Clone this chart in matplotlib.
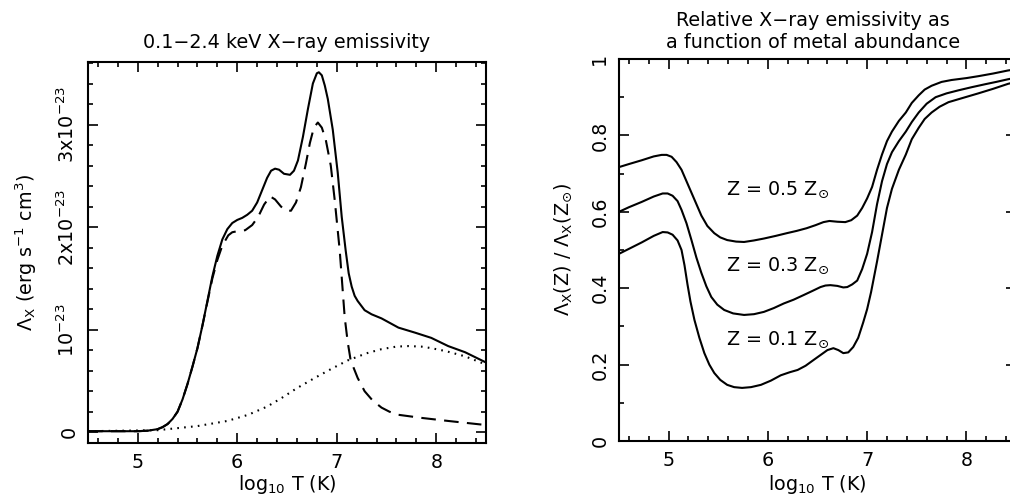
import matplotlib
matplotlib.use("Agg")
import matplotlib.pyplot as plt
from matplotlib.ticker import MultipleLocator, FixedLocator, FixedFormatter

plt.rcParams['font.family'] = ['DejaVu Sans']
plt.rcParams['mathtext.default'] = 'regular'
plt.rcParams['font.size'] = 13.8

# ---------------- Left panel data (units of 1e-23 erg s^-1 cm^3) ----------------
total_logT = [4.5, 5.0, 5.1, 5.2, 5.25, 5.3, 5.35, 5.4, 5.45, 5.5, 5.55, 5.6, 5.65, 5.7, 5.75,
              5.8, 5.85, 5.9, 5.95, 6.0, 6.05, 6.1, 6.15, 6.2, 6.25, 6.3, 6.34, 6.38, 6.42,
              6.47, 6.53, 6.57, 6.61, 6.66, 6.71, 6.76, 6.8, 6.82, 6.85, 6.88, 6.91, 6.96,
              7.01, 7.05, 7.09, 7.12, 7.15, 7.18, 7.21, 7.28, 7.35, 7.45, 7.62, 7.79, 7.95,
              8.12, 8.29, 8.5]
total_em = [0.01, 0.01, 0.015, 0.03, 0.05, 0.08, 0.13, 0.20, 0.32, 0.47, 0.64, 0.82, 1.04, 1.28, 1.52,
            1.72, 1.88, 1.98, 2.04, 2.07, 2.09, 2.12, 2.16, 2.24, 2.36, 2.48, 2.55, 2.57, 2.56,
            2.52, 2.51, 2.55, 2.65, 2.88, 3.15, 3.40, 3.50, 3.51, 3.48, 3.38, 3.25, 2.95,
            2.53, 2.10, 1.77, 1.55, 1.42, 1.33, 1.28, 1.19, 1.15, 1.11, 1.02, 0.97, 0.92,
            0.84, 0.78, 0.68]

line_logT = [4.5, 5.0, 5.1, 5.2, 5.25, 5.3, 5.35, 5.4, 5.45, 5.5, 5.55, 5.6, 5.65, 5.7, 5.75,
             5.8, 5.85, 5.91, 5.95, 6.0, 6.08, 6.15, 6.21, 6.27, 6.33, 6.38, 6.44, 6.49,
             6.54, 6.59, 6.64, 6.69, 6.73, 6.77, 6.81, 6.85, 6.89, 6.94, 6.98, 7.03, 7.08,
             7.11, 7.14, 7.21, 7.28, 7.36, 7.45, 7.53, 7.62, 7.85, 8.12, 8.5]
line_em = [0.01, 0.01, 0.015, 0.03, 0.05, 0.08, 0.13, 0.20, 0.32, 0.47, 0.64, 0.82, 1.04, 1.27, 1.50,
           1.68, 1.82, 1.92, 1.95, 1.96, 1.97, 2.02, 2.10, 2.22, 2.30, 2.27, 2.20, 2.16,
           2.16, 2.24, 2.39, 2.62, 2.82, 2.97, 3.02, 2.97, 2.85, 2.60, 2.26, 1.77, 1.12,
           0.88, 0.70, 0.53, 0.40, 0.31, 0.24, 0.20, 0.17, 0.14, 0.11, 0.07]

brems_logT = [4.5, 5.2, 5.6, 5.9, 6.11, 6.3, 6.44, 6.6, 6.78, 6.95, 7.11, 7.3, 7.45, 7.6,
              7.72, 7.85, 7.95, 8.1, 8.29, 8.5]
brems_em = [0.01, 0.02, 0.06, 0.11, 0.17, 0.25, 0.33, 0.43, 0.53, 0.62, 0.70, 0.77, 0.81, 0.835,
            0.84, 0.835, 0.82, 0.79, 0.74, 0.66]

left_yticks = [0, 1, 2, 3]
left_yticklabels = ['0', r'10$^{-23}$', r'2x10$^{-23}$', r'3x10$^{-23}$']
xticks = [5, 6, 7, 8]

# ---------------- Right panel data (relative emissivity) ----------------
z05_logT = [4.5, 4.6, 4.73, 4.85, 4.93, 4.98, 5.03, 5.08, 5.13, 5.18, 5.23, 5.28, 5.33, 5.39,
            5.46, 5.52, 5.59, 5.68, 5.76, 5.86, 5.96, 6.08, 6.19, 6.29, 6.39, 6.48, 6.56,
            6.62, 6.70, 6.78, 6.84, 6.9, 6.95, 7.0, 7.05, 7.1, 7.15, 7.2, 7.25, 7.32, 7.39,
            7.45, 7.52, 7.58, 7.65, 7.75, 7.85, 8.0, 8.12, 8.27, 8.42, 8.5]
z05_rel = [0.717, 0.725, 0.735, 0.745, 0.749, 0.749, 0.744, 0.73, 0.71, 0.68, 0.65, 0.62, 0.59, 0.563,
           0.544, 0.533, 0.526, 0.522, 0.521, 0.525, 0.53, 0.537, 0.544, 0.55, 0.557, 0.565, 0.573,
           0.576, 0.574, 0.573, 0.578, 0.59, 0.61, 0.635, 0.665, 0.71, 0.75, 0.785, 0.81, 0.838, 0.86,
           0.885, 0.905, 0.92, 0.93, 0.94, 0.945, 0.95, 0.955, 0.962, 0.97, 0.973]

z03_logT = [4.5, 4.6, 4.73, 4.85, 4.94, 4.99, 5.04, 5.09, 5.13, 5.18, 5.23, 5.28, 5.33, 5.38,
            5.43, 5.49, 5.56, 5.65, 5.76, 5.86, 5.96, 6.06, 6.16, 6.26, 6.36, 6.45, 6.53,
            6.58, 6.63, 6.7, 6.76, 6.80, 6.85, 6.90, 6.95, 7.00, 7.05, 7.1, 7.15, 7.2, 7.25,
            7.32, 7.39, 7.45, 7.52, 7.6, 7.69, 7.8, 7.92, 8.05, 8.19, 8.3, 8.42, 8.5]
z03_rel = [0.60, 0.612, 0.626, 0.640, 0.648, 0.648, 0.642, 0.628, 0.605, 0.57, 0.526, 0.48, 0.44, 0.405,
           0.377, 0.357, 0.343, 0.334, 0.33, 0.332, 0.338, 0.348, 0.36, 0.37, 0.382, 0.393, 0.403,
           0.407, 0.408, 0.406, 0.402, 0.403, 0.41, 0.42, 0.45, 0.49, 0.547, 0.62, 0.68, 0.725, 0.756,
           0.785, 0.81, 0.835, 0.86, 0.883, 0.90, 0.91, 0.918, 0.926, 0.934, 0.94, 0.947, 0.951]

z01_logT = [4.5, 4.6, 4.73, 4.85, 4.94, 4.99, 5.04, 5.09, 5.13, 5.16, 5.19, 5.22, 5.26, 5.31,
            5.36, 5.41, 5.46, 5.52, 5.59, 5.66, 5.74, 5.83, 5.93, 6.03, 6.13, 6.22, 6.30,
            6.38, 6.46, 6.53, 6.60, 6.66, 6.71, 6.76, 6.81, 6.86, 6.91, 6.96, 7.0, 7.04,
            7.1, 7.15, 7.2, 7.25, 7.32, 7.39, 7.45, 7.52, 7.58, 7.65, 7.73, 7.82, 7.95,
            8.12, 8.27, 8.42, 8.5]
z01_rel = [0.49, 0.503, 0.52, 0.537, 0.547, 0.546, 0.54, 0.525, 0.50, 0.46, 0.41, 0.365, 0.317, 0.27,
           0.23, 0.20, 0.178, 0.16, 0.147, 0.141, 0.139, 0.141, 0.147, 0.158, 0.172, 0.18, 0.186,
           0.197, 0.212, 0.225, 0.238, 0.243, 0.238, 0.23, 0.232, 0.246, 0.27, 0.31, 0.345, 0.39,
           0.47, 0.54, 0.61, 0.66, 0.71, 0.75, 0.79, 0.82, 0.843, 0.86, 0.875, 0.887, 0.897,
           0.91, 0.922, 0.935, 0.94]

right_yticks = [0, 0.2, 0.4, 0.6, 0.8, 1.0]
right_yticklabels = ['0', '0.2', '0.4', '0.6', '0.8', '1']
curve_labels = [r'Z = 0.5 Z$_{\odot}$', r'Z = 0.3 Z$_{\odot}$', r'Z = 0.1 Z$_{\odot}$']
label_pos = [(5.58, 0.657), (5.58, 0.46), (5.58, 0.264)]

# ---------------- Figure ----------------
W, H = 1010, 500
fig = plt.figure(figsize=(W / 100, H / 100), dpi=100)
axL = fig.add_axes([88 / W, (H - 443) / H, 398 / W, 381 / H])
axR = fig.add_axes([619 / W, (H - 441) / H, 397 / W, 382 / H])

lw = 1.5
for ax in (axL, axR):
    for s in ax.spines.values():
        s.set_linewidth(1.5)
    ax.tick_params(which='both', direction='in', top=True, right=True, width=1.2)
    ax.tick_params(which='major', length=7, pad=7)
    ax.tick_params(which='minor', length=3.5)
    ax.tick_params(axis='y', labelrotation=90)
    ax.set_xlim(4.5, 8.5)
    ax.xaxis.set_major_locator(FixedLocator(xticks))
    ax.xaxis.set_minor_locator(MultipleLocator(0.2))
    ax.set_xlabel(r'log$_{10}$ T (K)', va='center')

# Left
axL.plot(total_logT, total_em, color='black', lw=lw, solid_joinstyle='round')
axL.plot(line_logT, line_em, color='black', lw=lw, linestyle=(0, (7, 4)))
axL.plot(brems_logT, brems_em, color='black', lw=lw, linestyle=(0, (0.8, 2.5)))
axL.set_ylim(-0.105, 3.61)
axL.yaxis.set_major_locator(FixedLocator(left_yticks))
axL.yaxis.set_major_formatter(FixedFormatter(left_yticklabels))
axL.yaxis.set_minor_locator(MultipleLocator(0.2))
axL.set_ylabel(r'$\Lambda_X$ (erg s$^{-1}$ cm$^3$)', va='center')
axL.yaxis.set_label_coords((26 - 88) / 398, 0.5)
axL.xaxis.set_label_coords(0.5, (443 - 484) / 381)
axL.text(0.5, 1 + (62 - 43) / 381, '0.1\u22122.4 keV X\u2212ray emissivity',
         transform=axL.transAxes, ha='center', va='center')

# Right
for xs, ys in ((z05_logT, z05_rel), (z03_logT, z03_rel), (z01_logT, z01_rel)):
    axR.plot(xs, ys, color='black', lw=lw, solid_joinstyle='round')
for lab, (x, y) in zip(curve_labels, label_pos):
    axR.text(x, y, lab, ha='left', va='center')
axR.set_ylim(0, 1)
axR.yaxis.set_major_locator(FixedLocator(right_yticks))
axR.yaxis.set_major_formatter(FixedFormatter(right_yticklabels))
axR.yaxis.set_minor_locator(MultipleLocator(0.1))
axR.set_ylabel(r'$\Lambda_X$(Z) / $\Lambda_X$(Z$_{\odot}$)', va='center')
axR.yaxis.set_label_coords((563 - 619) / 397, 0.5)
axR.xaxis.set_label_coords(0.5, (441 - 484) / 382)
cx = (813 - 619) / 397
axR.text(cx, 1 + (59 - 20) / 382, 'Relative X\u2212ray emissivity as',
         transform=axR.transAxes, ha='center', va='center')
axR.text(cx, 1 + (59 - 43) / 382, 'a function of metal abundance',
         transform=axR.transAxes, ha='center', va='center')

for ax in (axL, axR):
    for t in ax.get_yticklabels():
        t.set_va('center')

fig.savefig('out.png', dpi=100)
